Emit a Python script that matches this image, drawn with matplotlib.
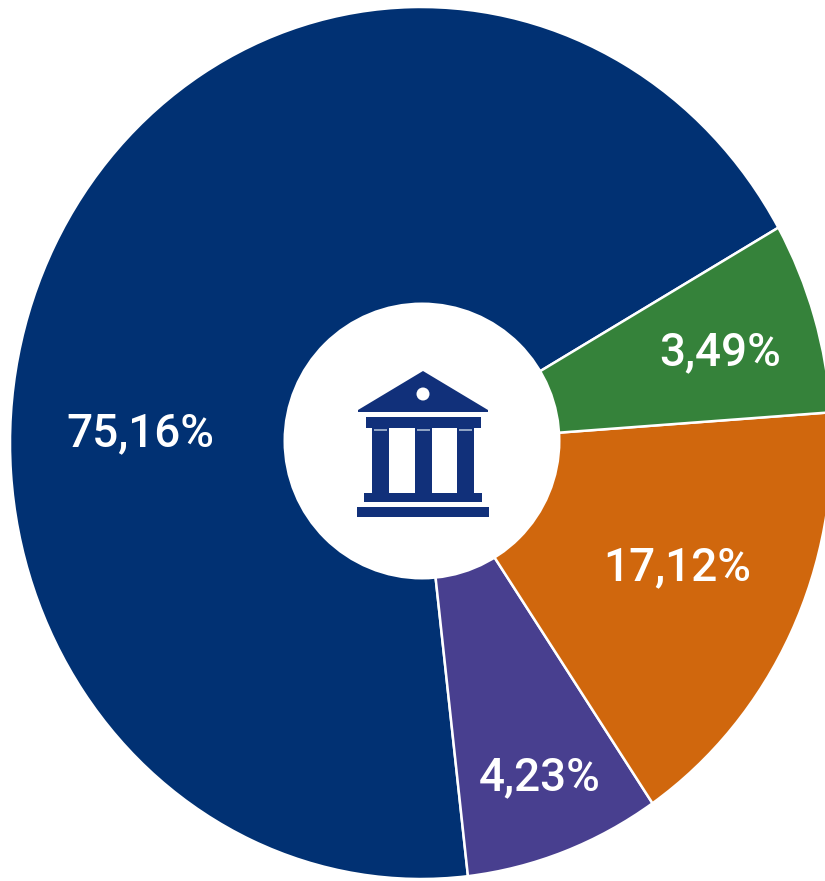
import matplotlib.pyplot as plt
from matplotlib.patches import Circle, Polygon, Rectangle

# slice sizes as drawn in the picture (they do not follow the printed labels)
slice_sizes = [68.6, 7.7, 16.6, 7.1]
slice_labels = ["75,16%", "4,23%", "17,12%", "3,49%"]
slice_colors = ["#013173", "#483f8f", "#d0670d", "#35823a"]
label_x = [140, 540, 677, 720]
label_y = [433, 777, 567, 352]

W, H = 825, 881
cx, cy = 421, 443
rx, ry = 411, 436

fig = plt.figure(figsize=(W / 100, H / 100), dpi=100)

# pie axes stretched a bit, the outer ring in the picture is not quite round
ax = fig.add_axes([0, 0, 1, 1])
ax.pie(slice_sizes, colors=slice_colors, startangle=29.6, radius=1,
       wedgeprops={"edgecolor": "white", "linewidth": 1.8})
ax.set_aspect("auto")
ax.set_xlim(-cx / rx, (W - cx) / rx)
ax.set_ylim((cy - H) / ry, cy / ry)

# overlay in pixel coordinates for the hole, icon and labels
top = fig.add_axes([0, 0, 1, 1])
top.set_xlim(0, W)
top.set_ylim(H, 0)
top.axis("off")
top.patch.set_alpha(0)

top.add_patch(Circle((422, 441), 138.5, fc="white", ec="none"))

icon = "#11307a"
top.add_patch(Polygon([(423, 371), (488, 410), (488, 412), (358, 412), (358, 410)], fc=icon, ec="none"))
top.add_patch(Circle((423, 394), 6.5, fc="white", ec="none"))
top.add_patch(Rectangle((366, 417), 115, 11, fc=icon, ec="none"))
for x in [372, 415, 457]:
    top.add_patch(Rectangle((x, 428), 17, 66, fc=icon, ec="none"))
    top.add_patch(Rectangle((x + 2, 429), 13, 2, fc="#8fa3c4", ec="none"))
top.add_patch(Rectangle((364, 493), 118, 9, fc=icon, ec="none"))
top.add_patch(Rectangle((357, 507), 132, 10, fc=icon, ec="none"))

for i in range(len(slice_labels)):
    top.text(label_x[i], label_y[i], slice_labels[i], color="white", fontsize=33,
             family="Roboto", weight="medium", ha="center", va="center")

fig.savefig("out.png", dpi=100)
